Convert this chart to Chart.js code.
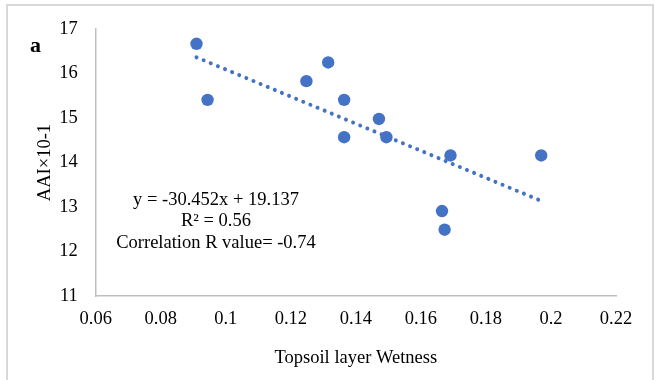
<!DOCTYPE html>
<html>
<head>
<meta charset="utf-8">
<script src="https://cdn.jsdelivr.net/npm/chart.js@4/dist/chart.umd.min.js"></script>
<style>
  html, body { margin: 0; padding: 0; background: #fff; }
  #wrap { width: 655px; height: 380px; }
</style>
</head>
<body>
<div id="wrap"><canvas id="c" width="655" height="380"></canvas></div>
<script>
// Topsoil layer wetness vs. AAI observations
const wetness = [0.0910, 0.0944, 0.1248, 0.1315, 0.1364, 0.1364, 0.1471, 0.1494, 0.1665, 0.1673, 0.1691, 0.1970];
const aai     = [16.67, 15.41, 15.83, 16.25, 15.41, 14.57, 14.98, 14.57, 12.91, 12.49, 14.16, 14.16];

// Linear fit as stated in the annotation
const slope = -30.452;
const intercept = 19.137;
const rSquared = '0.56';
const corrR = '-0.74';

const xTickValues = [0.06, 0.08, 0.10, 0.12, 0.14, 0.16, 0.18, 0.20, 0.22];
const xTickLabels = ['0.06', '0.08', '0.1', '0.12', '0.14', '0.16', '0.18', '0.2', '0.22'];
const yTickValues = [11, 12, 13, 14, 15, 16, 17];
const yTickLabels = ['11', '12', '13', '14', '15', '16', '17'];

const annotationLines = [
  'y = ' + slope + 'x + ' + intercept,
  'R\u00b2 = ' + rSquared,
  'Correlation R value= ' + corrR
];
const panelLabel = 'a';

const points = wetness.map((x, i) => ({ x: x, y: aai[i] }));
const xMin = Math.min(...wetness);
const xMax = Math.max(...wetness);
const trend = [xMin, xMax].map(x => ({ x: x, y: slope * x + intercept }));

const FONT = "'Liberation Serif', 'Times New Roman', serif";
const BLUE = '#4472C4';

const decorations = {
  id: 'decorations',
  beforeDraw(chart) {
    const ctx = chart.ctx;
    ctx.save();
    ctx.fillStyle = '#ffffff';
    ctx.fillRect(0, 0, chart.width, chart.height);
    ctx.strokeStyle = '#d9d9d9';
    ctx.lineWidth = 2;
    ctx.strokeRect(7, 5, 646, 390);
    ctx.restore();
  },
  afterDraw(chart) {
    const ctx = chart.ctx;
    ctx.save();
    ctx.fillStyle = '#000';
    ctx.textBaseline = 'middle';
    ctx.textAlign = 'left';
    ctx.font = 'bold 22px ' + FONT;
    ctx.fillText(panelLabel, 30, 46);
    ctx.textAlign = 'center';
    ctx.font = '18.5px ' + FONT;
    const ys = [200, 221.6, 243.2];
    annotationLines.forEach((t, i) => ctx.fillText(t, 216, ys[i]));
    ctx.restore();
  }
};

new Chart(document.getElementById('c'), {
  type: 'scatter',
  data: {
    datasets: [
      {
        label: 'Linear (AAI)',
        data: trend,
        showLine: true,
        borderColor: BLUE,
        borderWidth: 4,
        borderDash: [0.01, 7.7],
        borderCapStyle: 'round',
        pointRadius: 0,
        order: 0
      },
      {
        label: 'AAI',
        data: points,
        backgroundColor: BLUE,
        borderColor: BLUE,
        borderWidth: 0,
        pointRadius: 6.2,
        order: 1
      }
    ]
  },
  options: {
    responsive: false,
    animation: false,
    events: [],
    layout: { padding: { left: 0, right: 39, top: 28.5, bottom: 0 } },
    plugins: { legend: { display: false }, tooltip: { enabled: false } },
    scales: {
      x: {
        type: 'linear',
        min: 0.06,
        max: 0.22,
        afterBuildTicks: s => { s.ticks = xTickValues.map(v => ({ value: v })); },
        afterFit: s => { s.height = 84; },
        grid: { display: false, drawTicks: false },
        border: { display: true, color: '#bfbfbf', width: 1.5 },
        ticks: {
          padding: 12,
          color: '#000',
          font: { family: FONT, size: 18.5 },
          maxRotation: 0,
          autoSkip: false,
          callback: (v, i) => xTickLabels[i]
        },
        title: {
          display: true,
          text: 'Topsoil layer Wetness',
          color: '#000',
          font: { family: FONT, size: 18.5 },
          padding: { top: 0, bottom: 11 }
        }
      },
      y: {
        type: 'linear',
        min: 11,
        max: 17,
        afterBuildTicks: s => { s.ticks = yTickValues.map(v => ({ value: v })); },
        afterFit: s => { s.width = 95.7; },
        grid: { display: false, drawTicks: false },
        border: { display: true, color: '#bfbfbf', width: 1.5 },
        ticks: {
          padding: 18,
          color: '#000',
          font: { family: FONT, size: 18.5 },
          autoSkip: false,
          callback: (v, i) => yTickLabels[i]
        },
        title: {
          display: true,
          text: 'AAI\u00d710-1',
          color: '#000',
          font: { family: FONT, size: 18.5 },
          padding: { top: 34, bottom: 0 }
        }
      }
    }
  },
  plugins: [decorations]
});
</script>
</body>
</html>
